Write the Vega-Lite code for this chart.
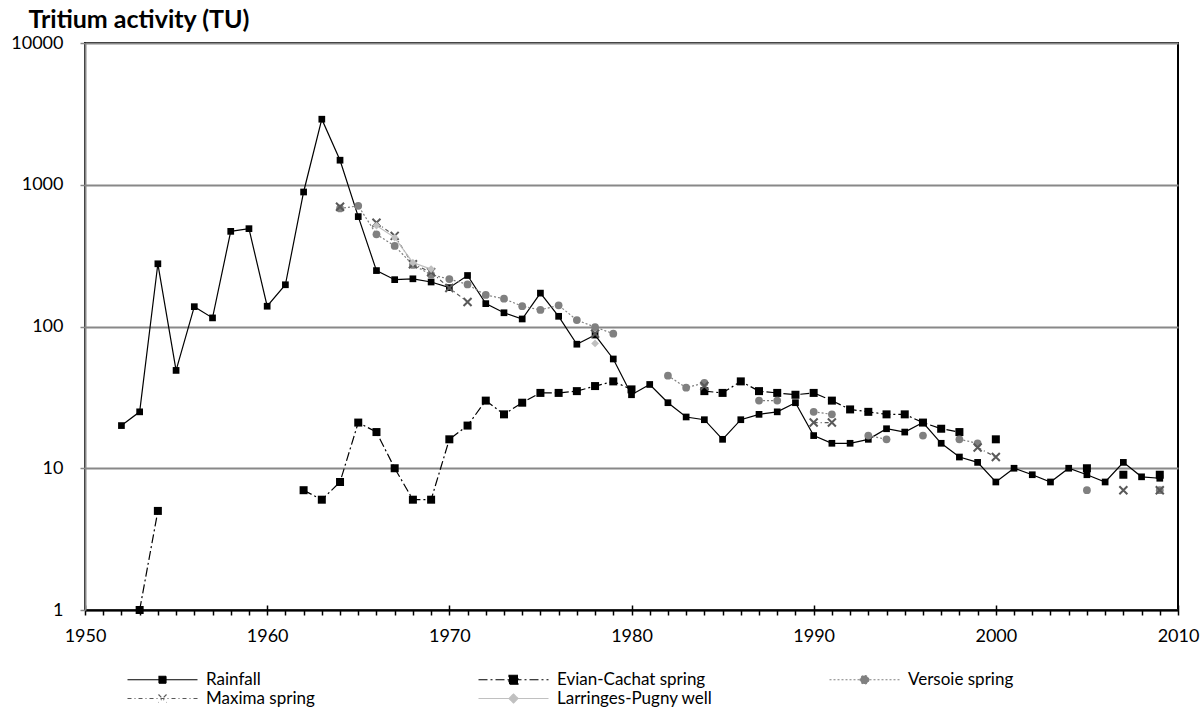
{
  "$schema": "https://vega.github.io/schema/vega-lite/v6.json",
  "width": 1093,
  "height": 567,
  "autosize": {"type": "none"},
  "padding": {"left": 85, "top": 43, "right": 25, "bottom": 103},
  "background": "white",
  "config": {
    "font": "Lato",
    "view": {"stroke": "black", "strokeWidth": 2},
    "axis": {"labelFont": "Lato", "labelFontSize": 18, "labelColor": "black"},
    "legend": {"labelFont": "Lato"}
  },
  "resolve": {"axis": {"x": "independent"}},
  "data": {
    "values": [
      {"series": "Rainfall", "year": 1952, "tu": 20},
      {"series": "Rainfall", "year": 1953, "tu": 25},
      {"series": "Rainfall", "year": 1954, "tu": 277},
      {"series": "Rainfall", "year": 1955, "tu": 49},
      {"series": "Rainfall", "year": 1956, "tu": 138},
      {"series": "Rainfall", "year": 1957, "tu": 115},
      {"series": "Rainfall", "year": 1958, "tu": 469},
      {"series": "Rainfall", "year": 1959, "tu": 490},
      {"series": "Rainfall", "year": 1960, "tu": 139},
      {"series": "Rainfall", "year": 1961, "tu": 197},
      {"series": "Rainfall", "year": 1962, "tu": 889},
      {"series": "Rainfall", "year": 1963, "tu": 2900},
      {"series": "Rainfall", "year": 1964, "tu": 1490},
      {"series": "Rainfall", "year": 1965, "tu": 596},
      {"series": "Rainfall", "year": 1966, "tu": 248},
      {"series": "Rainfall", "year": 1967, "tu": 214},
      {"series": "Rainfall", "year": 1968, "tu": 217},
      {"series": "Rainfall", "year": 1969, "tu": 206},
      {"series": "Rainfall", "year": 1970, "tu": 188},
      {"series": "Rainfall", "year": 1971, "tu": 229},
      {"series": "Rainfall", "year": 1972, "tu": 145},
      {"series": "Rainfall", "year": 1973, "tu": 125},
      {"series": "Rainfall", "year": 1974, "tu": 113},
      {"series": "Rainfall", "year": 1975, "tu": 172},
      {"series": "Rainfall", "year": 1976, "tu": 118},
      {"series": "Rainfall", "year": 1977, "tu": 75},
      {"series": "Rainfall", "year": 1978, "tu": 87},
      {"series": "Rainfall", "year": 1979, "tu": 59},
      {"series": "Rainfall", "year": 1980, "tu": 33},
      {"series": "Rainfall", "year": 1981, "tu": 39},
      {"series": "Rainfall", "year": 1982, "tu": 29},
      {"series": "Rainfall", "year": 1983, "tu": 23},
      {"series": "Rainfall", "year": 1984, "tu": 22},
      {"series": "Rainfall", "year": 1985, "tu": 16},
      {"series": "Rainfall", "year": 1986, "tu": 22},
      {"series": "Rainfall", "year": 1987, "tu": 24},
      {"series": "Rainfall", "year": 1988, "tu": 25},
      {"series": "Rainfall", "year": 1989, "tu": 29},
      {"series": "Rainfall", "year": 1990, "tu": 17},
      {"series": "Rainfall", "year": 1991, "tu": 15},
      {"series": "Rainfall", "year": 1992, "tu": 15},
      {"series": "Rainfall", "year": 1993, "tu": 16},
      {"series": "Rainfall", "year": 1994, "tu": 19},
      {"series": "Rainfall", "year": 1995, "tu": 18},
      {"series": "Rainfall", "year": 1996, "tu": 21},
      {"series": "Rainfall", "year": 1997, "tu": 15},
      {"series": "Rainfall", "year": 1998, "tu": 12},
      {"series": "Rainfall", "year": 1999, "tu": 11},
      {"series": "Rainfall", "year": 2000, "tu": 8},
      {"series": "Rainfall", "year": 2001, "tu": 10},
      {"series": "Rainfall", "year": 2002, "tu": 9},
      {"series": "Rainfall", "year": 2003, "tu": 8},
      {"series": "Rainfall", "year": 2004, "tu": 10},
      {"series": "Rainfall", "year": 2005, "tu": 9},
      {"series": "Rainfall", "year": 2006, "tu": 8},
      {"series": "Rainfall", "year": 2007, "tu": 11},
      {"series": "Rainfall", "year": 2008, "tu": 8.7},
      {"series": "Rainfall", "year": 2009, "tu": 8.5},

      {"series": "Evian-Cachat spring", "year": 1953, "tu": 1},
      {"series": "Evian-Cachat spring", "year": 1954, "tu": 5},
      {"series": "Evian-Cachat spring", "year": 1955, "tu": null},
      {"series": "Evian-Cachat spring", "year": 1962, "tu": 7},
      {"series": "Evian-Cachat spring", "year": 1963, "tu": 6},
      {"series": "Evian-Cachat spring", "year": 1964, "tu": 8},
      {"series": "Evian-Cachat spring", "year": 1965, "tu": 21},
      {"series": "Evian-Cachat spring", "year": 1966, "tu": 18},
      {"series": "Evian-Cachat spring", "year": 1967, "tu": 10},
      {"series": "Evian-Cachat spring", "year": 1968, "tu": 6},
      {"series": "Evian-Cachat spring", "year": 1969, "tu": 6},
      {"series": "Evian-Cachat spring", "year": 1970, "tu": 16},
      {"series": "Evian-Cachat spring", "year": 1971, "tu": 20},
      {"series": "Evian-Cachat spring", "year": 1972, "tu": 30},
      {"series": "Evian-Cachat spring", "year": 1973, "tu": 24},
      {"series": "Evian-Cachat spring", "year": 1974, "tu": 29},
      {"series": "Evian-Cachat spring", "year": 1975, "tu": 34},
      {"series": "Evian-Cachat spring", "year": 1976, "tu": 34},
      {"series": "Evian-Cachat spring", "year": 1977, "tu": 35},
      {"series": "Evian-Cachat spring", "year": 1978, "tu": 38},
      {"series": "Evian-Cachat spring", "year": 1979, "tu": 41},
      {"series": "Evian-Cachat spring", "year": 1980, "tu": 36},
      {"series": "Evian-Cachat spring", "year": 1981, "tu": null},
      {"series": "Evian-Cachat spring", "year": 1984, "tu": 35},
      {"series": "Evian-Cachat spring", "year": 1985, "tu": 34},
      {"series": "Evian-Cachat spring", "year": 1986, "tu": 41},
      {"series": "Evian-Cachat spring", "year": 1987, "tu": 35},
      {"series": "Evian-Cachat spring", "year": 1988, "tu": 34},
      {"series": "Evian-Cachat spring", "year": 1989, "tu": 33},
      {"series": "Evian-Cachat spring", "year": 1990, "tu": 34},
      {"series": "Evian-Cachat spring", "year": 1991, "tu": 30},
      {"series": "Evian-Cachat spring", "year": 1992, "tu": 26},
      {"series": "Evian-Cachat spring", "year": 1993, "tu": 25},
      {"series": "Evian-Cachat spring", "year": 1994, "tu": 24},
      {"series": "Evian-Cachat spring", "year": 1995, "tu": 24},
      {"series": "Evian-Cachat spring", "year": 1996, "tu": 21},
      {"series": "Evian-Cachat spring", "year": 1997, "tu": 19},
      {"series": "Evian-Cachat spring", "year": 1998, "tu": 18},
      {"series": "Evian-Cachat spring", "year": 1999, "tu": null},
      {"series": "Evian-Cachat spring", "year": 2000, "tu": 16},
      {"series": "Evian-Cachat spring", "year": 2001, "tu": null},
      {"series": "Evian-Cachat spring", "year": 2005, "tu": 10},
      {"series": "Evian-Cachat spring", "year": 2006, "tu": null},
      {"series": "Evian-Cachat spring", "year": 2007, "tu": 9},
      {"series": "Evian-Cachat spring", "year": 2008, "tu": null},
      {"series": "Evian-Cachat spring", "year": 2009, "tu": 9},

      {"series": "Versoie spring", "year": 1964, "tu": 680},
      {"series": "Versoie spring", "year": 1965, "tu": 710},
      {"series": "Versoie spring", "year": 1966, "tu": 447},
      {"series": "Versoie spring", "year": 1967, "tu": 370},
      {"series": "Versoie spring", "year": 1968, "tu": 272},
      {"series": "Versoie spring", "year": 1969, "tu": 232},
      {"series": "Versoie spring", "year": 1970, "tu": 216},
      {"series": "Versoie spring", "year": 1971, "tu": 198},
      {"series": "Versoie spring", "year": 1972, "tu": 167},
      {"series": "Versoie spring", "year": 1973, "tu": 157},
      {"series": "Versoie spring", "year": 1974, "tu": 139},
      {"series": "Versoie spring", "year": 1975, "tu": 131},
      {"series": "Versoie spring", "year": 1976, "tu": 141},
      {"series": "Versoie spring", "year": 1977, "tu": 111},
      {"series": "Versoie spring", "year": 1978, "tu": 99},
      {"series": "Versoie spring", "year": 1979, "tu": 89},
      {"series": "Versoie spring", "year": 1980, "tu": null},
      {"series": "Versoie spring", "year": 1982, "tu": 45},
      {"series": "Versoie spring", "year": 1983, "tu": 37},
      {"series": "Versoie spring", "year": 1984, "tu": 40},
      {"series": "Versoie spring", "year": 1985, "tu": null},
      {"series": "Versoie spring", "year": 1987, "tu": 30},
      {"series": "Versoie spring", "year": 1988, "tu": 30},
      {"series": "Versoie spring", "year": 1989, "tu": null},
      {"series": "Versoie spring", "year": 1990, "tu": 25},
      {"series": "Versoie spring", "year": 1991, "tu": 24},
      {"series": "Versoie spring", "year": 1992, "tu": null},
      {"series": "Versoie spring", "year": 1993, "tu": 17},
      {"series": "Versoie spring", "year": 1994, "tu": 16},
      {"series": "Versoie spring", "year": 1995, "tu": null},
      {"series": "Versoie spring", "year": 1996, "tu": 17},
      {"series": "Versoie spring", "year": 1997, "tu": null},
      {"series": "Versoie spring", "year": 1998, "tu": 16},
      {"series": "Versoie spring", "year": 1999, "tu": 15},
      {"series": "Versoie spring", "year": 2000, "tu": null},
      {"series": "Versoie spring", "year": 2005, "tu": 7},
      {"series": "Versoie spring", "year": 2006, "tu": null},
      {"series": "Versoie spring", "year": 2009, "tu": 7},

      {"series": "Maxima spring", "year": 1964, "tu": 700},
      {"series": "Maxima spring", "year": 1965, "tu": null},
      {"series": "Maxima spring", "year": 1966, "tu": 540},
      {"series": "Maxima spring", "year": 1967, "tu": 436},
      {"series": "Maxima spring", "year": 1968, "tu": 275},
      {"series": "Maxima spring", "year": 1969, "tu": 242},
      {"series": "Maxima spring", "year": 1970, "tu": 187},
      {"series": "Maxima spring", "year": 1971, "tu": 149},
      {"series": "Maxima spring", "year": 1972, "tu": null},
      {"series": "Maxima spring", "year": 1978, "tu": 89},
      {"series": "Maxima spring", "year": 1979, "tu": null},
      {"series": "Maxima spring", "year": 1984, "tu": 38},
      {"series": "Maxima spring", "year": 1985, "tu": null},
      {"series": "Maxima spring", "year": 1990, "tu": 21},
      {"series": "Maxima spring", "year": 1991, "tu": 21},
      {"series": "Maxima spring", "year": 1992, "tu": null},
      {"series": "Maxima spring", "year": 1999, "tu": 14},
      {"series": "Maxima spring", "year": 2000, "tu": 12},
      {"series": "Maxima spring", "year": 2001, "tu": null},
      {"series": "Maxima spring", "year": 2007, "tu": 7},
      {"series": "Maxima spring", "year": 2008, "tu": null},
      {"series": "Maxima spring", "year": 2009, "tu": 7},

      {"series": "Larringes-Pugny well", "year": 1966, "tu": 515},
      {"series": "Larringes-Pugny well", "year": 1967, "tu": 424},
      {"series": "Larringes-Pugny well", "year": 1968, "tu": 282},
      {"series": "Larringes-Pugny well", "year": 1969, "tu": 254},
      {"series": "Larringes-Pugny well", "year": 1970, "tu": null},
      {"series": "Larringes-Pugny well", "year": 1978, "tu": 76}
    ]
  },
  "encoding": {
    "x": {
      "field": "year",
      "type": "quantitative",
      "scale": {"domain": [1950, 2010], "nice": false, "zero": false},
      "axis": {
        "title": null,
        "orient": "bottom",
        "values": [1950,1951,1952,1953,1954,1955,1956,1957,1958,1959,1960,1961,1962,1963,1964,1965,1966,1967,1968,1969,1970,1971,1972,1973,1974,1975,1976,1977,1978,1979,1980,1981,1982,1983,1984,1985,1986,1987,1988,1989,1990,1991,1992,1993,1994,1995,1996,1997,1998,1999,2000,2001,2002,2003,2004,2005,2006,2007,2008,2009,2010],
        "labelExpr": "datum.value % 10 === 0 ? format(datum.value, 'd') : ''",
        "labelOverlap": false,
        "labelFlush": false,
        "labelPadding": 12,
        "tickSize": 5,
        "tickColor": "black",
        "tickWidth": 1.5,
        "domainColor": "black",
        "domainWidth": 2,
        "grid": false
      }
    },
    "y": {
      "field": "tu",
      "type": "quantitative",
      "scale": {"type": "log", "domain": [1, 10000], "nice": false},
      "axis": {
        "title": "Tritium activity (TU)",
        "titleAngle": 0,
        "titleAlign": "left",
        "titleBaseline": "middle",
        "titleX": -57,
        "titleY": -24,
        "titleFont": "Lato",
        "titleFontSize": 25,
        "titleFontWeight": "bold",
        "titleColor": "black",
        "values": [1, 10, 100, 1000, 10000],
        "format": "d",
        "domainColor": "#888888",
        "domainWidth": 2,
        "tickColor": "#888888",
        "tickWidth": 1.5,
        "tickSize": 5,
        "labelPadding": 17,
        "grid": true,
        "gridColor": "#888888",
        "gridWidth": 2
      }
    }
  },
  "layer": [
    {
      "layer": [
        {
          "transform": [{"filter": "datum.series === 'Rainfall'"}],
          "mark": {"type": "line", "invalid": "break-paths-show-domains", "color": "#000000", "strokeWidth": 1.2}
        },
        {
          "transform": [{"filter": "datum.series === 'Rainfall'"}],
          "mark": {"type": "point", "shape": "square", "filled": true, "color": "#000000", "size": 45, "opacity": 1}
        },
        {
          "transform": [{"filter": "datum.series === 'Evian-Cachat spring'"}],
          "mark": {"type": "line", "invalid": "break-paths-show-domains", "color": "#000000", "strokeWidth": 1.2, "strokeDash": [9, 3, 2, 3]}
        },
        {
          "transform": [{"filter": "datum.series === 'Evian-Cachat spring'"}],
          "mark": {"type": "point", "shape": "square", "filled": true, "color": "#000000", "size": 64, "opacity": 1}
        },
        {
          "transform": [{"filter": "datum.series === 'Versoie spring'"}],
          "mark": {"type": "line", "invalid": "break-paths-show-domains", "color": "#808080", "strokeWidth": 1.2, "strokeDash": [2, 2]}
        },
        {
          "transform": [{"filter": "datum.series === 'Versoie spring'"}],
          "mark": {"type": "point", "shape": "circle", "filled": true, "color": "#808080", "size": 60, "opacity": 1}
        },
        {
          "transform": [{"filter": "datum.series === 'Maxima spring'"}],
          "mark": {"type": "line", "invalid": "break-paths-show-domains", "color": "#595959", "strokeWidth": 1.2, "strokeDash": [4, 3, 1, 3]}
        },
        {
          "transform": [{"filter": "datum.series === 'Maxima spring'"}],
          "mark": {"type": "point", "shape": "M-1,-1L1,1M1,-1L-1,1", "filled": false, "color": "#595959", "size": 64, "strokeWidth": 2, "opacity": 1}
        },
        {
          "transform": [{"filter": "datum.series === 'Larringes-Pugny well'"}],
          "mark": {"type": "line", "invalid": "break-paths-show-domains", "color": "#c0c0c0", "strokeWidth": 1.2}
        },
        {
          "transform": [{"filter": "datum.series === 'Larringes-Pugny well'"}],
          "mark": {"type": "point", "shape": "diamond", "filled": true, "color": "#c0c0c0", "size": 60, "opacity": 1}
        }
      ]
    },
    {
      "transform": [{"filter": "datum.year < 0"}],
      "mark": {"type": "point", "filled": true, "strokeWidth": 1.2, "opacity": 1},
      "encoding": {
        "x": {
          "field": "year",
          "type": "quantitative",
          "axis": {"orient": "bottom", "title": null, "values": [1950, 1960, 1970, 1980, 1990, 2000, 2010], "tickSize": -5, "tickColor": "black", "tickWidth": 1.5, "labels": false, "domain": false, "grid": false}
        },
        "shape": {
          "field": "series",
          "type": "nominal",
          "scale": {
            "domain": ["Rainfall", "Evian-Cachat spring", "Versoie spring", "Maxima spring", "Larringes-Pugny well"],
            "range": [
              "M-7,0H7M-0.7,-0.7H0.7V0.7H-0.7Z",
              "M-7,0H7M-0.9,-0.9H0.9V0.9H-0.9Z",
              "M-7,0H7M0.85,0A0.85,0.85,0,1,1,-0.85,0A0.85,0.85,0,1,1,0.85,0Z",
              "M-7,0H7M-0.8,-0.8L0.8,0.8M0.8,-0.8L-0.8,0.8",
              "M-7,0H7M0,-0.9L0.9,0L0,0.9L-0.9,0Z"
            ]
          },
          "legend": {"title": null, "orient": "none", "legendX": 69, "legendY": 628, "direction": "horizontal", "columns": 3, "gridAlign": "all", "columnPadding": 114, "rowPadding": 1, "padding": 0, "symbolSize": 100, "symbolStrokeWidth": 1.2, "labelFontSize": 17, "labelColor": "black", "labelOffset": 35, "labelLimit": 400}
        },
        "fill": {
          "field": "series",
          "type": "nominal",
          "scale": {
            "domain": ["Rainfall", "Evian-Cachat spring", "Versoie spring", "Maxima spring", "Larringes-Pugny well"],
            "range": ["#000000", "#000000", "#808080", "transparent", "#c0c0c0"]
          },
          "legend": {"title": null, "orient": "none", "legendX": 69, "legendY": 628, "direction": "horizontal", "columns": 3, "gridAlign": "all", "columnPadding": 114, "rowPadding": 1, "padding": 0, "symbolSize": 100, "symbolStrokeWidth": 1.2, "labelFontSize": 17, "labelColor": "black", "labelOffset": 35, "labelLimit": 400}
        },
        "stroke": {
          "field": "series",
          "type": "nominal",
          "scale": {
            "domain": ["Rainfall", "Evian-Cachat spring", "Versoie spring", "Maxima spring", "Larringes-Pugny well"],
            "range": ["#000000", "#000000", "#808080", "#595959", "#c0c0c0"]
          },
          "legend": {"title": null, "orient": "none", "legendX": 69, "legendY": 628, "direction": "horizontal", "columns": 3, "gridAlign": "all", "columnPadding": 114, "rowPadding": 1, "padding": 0, "symbolSize": 100, "symbolStrokeWidth": 1.2, "labelFontSize": 17, "labelColor": "black", "labelOffset": 35, "labelLimit": 400}
        },
        "strokeDash": {
          "field": "series",
          "type": "nominal",
          "scale": {
            "domain": ["Rainfall", "Evian-Cachat spring", "Versoie spring", "Maxima spring", "Larringes-Pugny well"],
            "range": [[1, 0], [9, 3, 2, 3], [2, 2], [4, 3, 1, 3], [1, 0]]
          },
          "legend": {"title": null, "orient": "none", "legendX": 69, "legendY": 628, "direction": "horizontal", "columns": 3, "gridAlign": "all", "columnPadding": 114, "rowPadding": 1, "padding": 0, "symbolSize": 100, "symbolStrokeWidth": 1.2, "labelFontSize": 17, "labelColor": "black", "labelOffset": 35, "labelLimit": 400}
        }
      }
    }
  ]
}
